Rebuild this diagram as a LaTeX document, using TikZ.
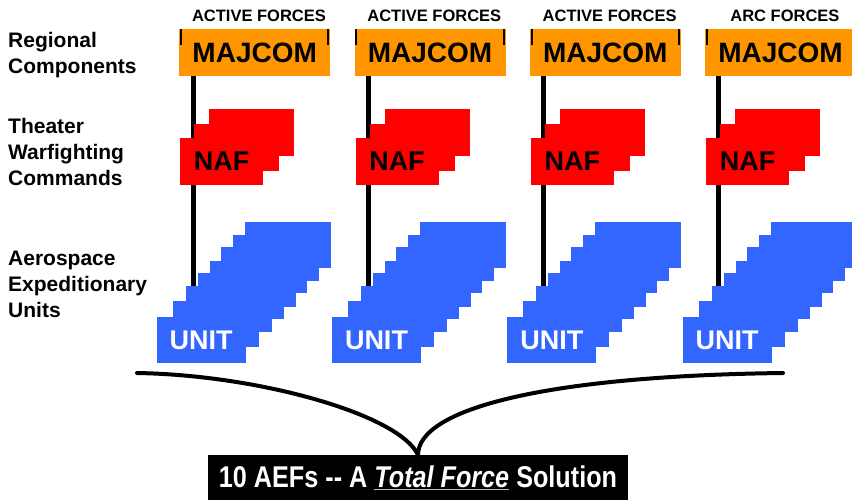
\documentclass[tikz,border=0pt]{standalone}
\usepackage{fontspec}
\setmainfont{Liberation Sans}
\definecolor{majorange}{RGB}{255,150,0}
\definecolor{nafred}{RGB}{255,0,0}
\definecolor{unitblue}{RGB}{51,102,255}
\tikzset{
  majbox/.style={fill=majorange, anchor=north west, minimum width=151pt, minimum height=47pt, inner sep=0pt, font=\fontsize{28}{28}\selectfont\bfseries},
  nafbox/.style={fill=nafred, anchor=north west, minimum width=85pt, minimum height=47pt, inner sep=0pt, font=\fontsize{27}{27}\selectfont\bfseries},
  unitbox/.style={fill=unitblue, anchor=north west, minimum width=86pt, minimum height=46pt, inner sep=0pt, text=white, font=\fontsize{27}{27}\selectfont\bfseries},
  hdr/.style={anchor=base, inner sep=0pt, font=\fontsize{16.5}{16.5}\selectfont\bfseries},
  lbl/.style={anchor=base west, align=left, inner sep=0pt, font=\fontsize{21}{26}\selectfont\bfseries},
  link/.style={line width=5pt},
  majtick/.style={line width=2pt},
  brace/.style={line width=4pt, line cap=round},
}
\begin{document}
\begin{tikzpicture}[x=1pt,y=-1pt]
\useasboundingbox (0,0) rectangle (852,499);
% row labels
\node[lbl] (rc) at (8,73) {Regional\\Components};
\node[lbl] (twc) at (8,185) {Theater\\Warfighting\\Commands};
\node[lbl] (aeu) at (8,317) {Aerospace\\Expeditionary\\Units};
% one column per force
\foreach \i/\hd in {1/ACTIVE FORCES,2/ACTIVE FORCES,3/ACTIVE FORCES,4/ARC FORCES}{
  \pgfmathsetmacro\X{179+175.3*(\i-1)}
  \node[hdr] (h\i) at (\X+80,21) {\hd};
  \node[majbox] (m\i) at (\X,29) {MAJCOM};
  \draw[majtick] ([xshift=2pt]m\i.north west) -- ++(0,16);
  \draw[majtick] ([xshift=-2pt]m\i.north east) -- ++(0,16);
  \coordinate (l\i) at (\X+14,286);
  \draw[link] (m\i.south -| l\i) -- (l\i);
  % NAF stack
  \node[nafbox] (n\i-3) at (\X+30,109) {};
  \node[nafbox] (n\i-2) at (\X+15,124) {};
  \node[nafbox, minimum width=83pt] (n\i-1) at (\X+1,138) {NAF};
  % UNIT stack
  \foreach \k/\dx/\dy in {7/88/-95,6/76/-82,5/64/-70,4/53/-56,3/41/-44,2/29/-31,1/16/-16}
    \node[unitbox] (u\i-\k) at (\X-22.5+\dx,317+\dy) {};
  \node[unitbox, minimum width=89pt] (u\i-0) at (\X-22.5,317) {UNIT};
}
% bottom line
\node[fill=black, text=white, minimum width=420pt, minimum height=46pt, inner sep=0pt, anchor=north] (sol) at (418,455)
  {\scalebox{0.84}[1]{\fontsize{30}{30}\selectfont\bfseries 10 AEFs -\kern0pt- A {\color{lightgray}\underline{\color{white}\itshape Total Force}} Solution}};
\coordinate (bl) at (137,373);
\coordinate (br) at (783,373);
\draw[brace] (bl) .. controls (260,375) and (400,415) .. (sol.north) .. controls (418,410) and (540,376) .. (br);
\end{tikzpicture}
\end{document}
